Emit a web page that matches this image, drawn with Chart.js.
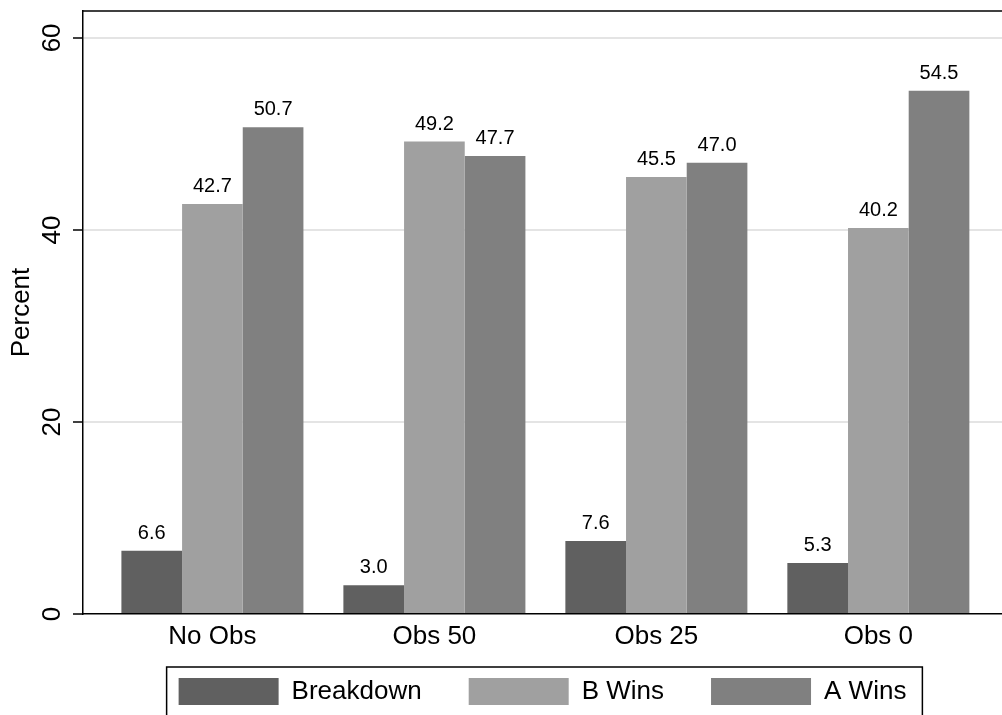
<!DOCTYPE html>
<html>
<head>
<meta charset="utf-8">
<script src="https://cdn.jsdelivr.net/npm/chart.js@4/dist/chart.umd.min.js"></script>
<style>
  html, body { margin: 0; padding: 0; background: #ffffff; }
  canvas { display: block; }
</style>
</head>
<body>
<canvas id="c" width="1002" height="715"></canvas>
<script>
const categories = ['No Obs', 'Obs 50', 'Obs 25', 'Obs 0'];
const seriesNames = ['Breakdown', 'B Wins', 'A Wins'];
const breakdown = [6.6, 3.0, 7.6, 5.3];
const bWins = [42.7, 49.2, 45.5, 40.2];
const aWins = [50.7, 47.7, 47.0, 54.5];
const yTicks = [0, 20, 40, 60];
const yTitle = 'Percent';

const FONT = "'Liberation Sans', Arial, Helvetica, sans-serif";

function toPoints(values) {
  return values.map((v, i) => ({ x: i + 1, y: v }));
}

const valueLabels = {
  id: 'valueLabels',
  afterDatasetsDraw(chart) {
    const ctx = chart.ctx;
    ctx.save();
    ctx.font = '20px ' + FONT;
    ctx.fillStyle = '#000';
    ctx.textAlign = 'center';
    ctx.textBaseline = 'alphabetic';
    chart.data.datasets.forEach((ds, di) => {
      const meta = chart.getDatasetMeta(di);
      meta.data.forEach((el, i) => {
        const v = ds.data[i].y;
        ctx.fillText(v.toFixed(1), el.x, el.y - 12);
      });
    });
    ctx.restore();
  }
};

const legendShift = {
  id: 'legendShift',
  afterLayout(chart) {
    const lg = chart.legend;
    if (!lg) return;
    const h = lg.bottom - lg.top;
    lg.top = chart.height - 84;
    lg.bottom = lg.top + 84;
  }
};

const frame = {
  id: 'frame',
  afterDraw(chart) {
    const ctx = chart.ctx;
    const a = chart.chartArea;
    ctx.save();
    ctx.strokeStyle = '#000';
    ctx.lineWidth = 1.5;
    ctx.beginPath();
    ctx.moveTo(a.left, a.top);
    ctx.lineTo(a.right, a.top);
    ctx.stroke();
    const hb = chart.legend && chart.legend.legendHitBoxes;
    if (hb && hb.length) {
      const first = hb[0], last = hb[hb.length - 1];
      const x0 = first.left - 12;
      const y0 = first.top - 11;
      const x1 = last.left + last.width + 16;
      const y1 = chart.height + 10;
      ctx.strokeRect(x0, y0, x1 - x0, y1 - y0);
    }
    ctx.restore();
  }
};

new Chart(document.getElementById('c'), {
  type: 'bar',
  data: {
    datasets: [
      { label: seriesNames[0], data: toPoints(breakdown), backgroundColor: '#606060', borderWidth: 0 },
      { label: seriesNames[1], data: toPoints(bWins), backgroundColor: '#a0a0a0', borderWidth: 0 },
      { label: seriesNames[2], data: toPoints(aWins), backgroundColor: '#808080', borderWidth: 0 }
    ]
  },
  options: {
    responsive: false,
    devicePixelRatio: 1,
    animation: false,
    layout: { padding: { top: 11, right: 0, bottom: 0, left: 0 } },
    datasets: { bar: { categoryPercentage: 0.82, barPercentage: 1.0 } },
    plugins: {
      legend: {
        position: 'bottom',
        fullSize: false,
        maxHeight: 51,
        labels: {
          font: { family: FONT, size: 26 },
          color: '#000',
          boxWidth: 100,
          boxHeight: 27,
          padding: 47
        }
      },
      tooltip: { enabled: false }
    },
    scales: {
      x: {
        type: 'linear',
        offset: false,
        min: 0.417,
        max: 4.557,
        grid: { display: false, drawTicks: false, offset: false },
        border: { display: true, color: '#000', width: 1.5 },
        afterBuildTicks(scale) {
          scale.ticks = categories.map((c, i) => ({ value: i + 1 }));
        },
        ticks: {
          font: { family: FONT, size: 26 },
          color: '#000',
          padding: 7,
          maxRotation: 0,
          autoSkip: false,
          callback: (v) => categories[Math.round(v) - 1]
        },
        afterFit(scale) {
          scale.height = 50;
          scale.paddingLeft = 0;
          scale.paddingRight = 0;
        }
      },
      y: {
        min: 0,
        max: 62.8,
        afterBuildTicks(scale) {
          scale.ticks = yTicks.map(v => ({ value: v }));
        },
        grid: {
          color: (c) => (c.tick && c.tick.value === 0) ? 'rgba(0,0,0,0)' : '#e4e4e4',
          lineWidth: 2,
          tickColor: '#000',
          tickWidth: 1.5,
          tickLength: 10,
          drawTicks: true
        },
        border: { display: true, color: '#000', width: 1.5 },
        ticks: {
          font: { family: FONT, size: 26 },
          color: '#000',
          padding: 6,
          minRotation: 90,
          maxRotation: 90,
          crossAlign: 'center'
        },
        title: {
          display: true,
          text: yTitle,
          font: { family: FONT, size: 26 },
          color: '#000',
          padding: { top: 6, bottom: 0 }
        },
        afterFit(scale) {
          scale.width = 83;
          scale.paddingTop = 0;
          scale.paddingBottom = 0;
        }
      }
    }
  },
  plugins: [legendShift, valueLabels, frame]
});
</script>
</body>
</html>
